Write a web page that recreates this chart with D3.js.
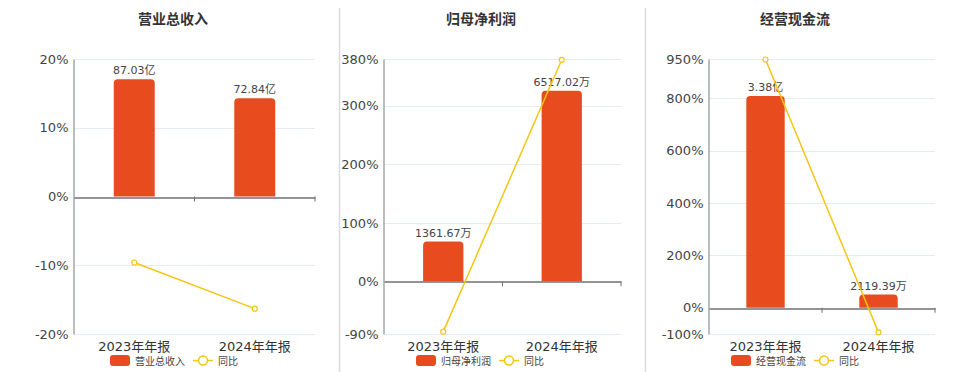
<!DOCTYPE html>
<html>
<head>
<meta charset="utf-8">
<script src="https://cdn.jsdelivr.net/npm/d3@7"></script>
<style>
  body { margin: 0; background: #fff; }
  svg text { font-family: "DejaVu Sans", "Noto Sans CJK SC", sans-serif; }
</style>
</head>
<body>
<svg id="chart" width="960" height="372"></svg>
<script>
// categories shared by all three panels
const categories = ["2023年年报", "2024年年报"];

// 营业总收入 (亿)
const revenueValues = [87.03, 72.84];
const revenueLabels = ["87.03亿", "72.84亿"];
const revenueYoY = [-9.6, -16.31];
const revenueTicks = [-20, -10, 0, 10, 20];

// 归母净利润 (万)
const profitValues = [1361.67, 6517.02];
const profitLabels = ["1361.67万", "6517.02万"];
const profitYoY = [-86, 378.6];
const profitTicks = [-90, 0, 100, 200, 300, 380];

// 经营现金流 (万)
const cashValues = [33800, 2119.39];
const cashLabels = ["3.38亿", "2119.39万"];
const cashYoY = [948, -93.7];
const cashTicks = [-100, 0, 200, 400, 600, 800, 950];

const panels = [
  { title: "营业总收入", bars: revenueValues, labels: revenueLabels, yoy: revenueYoY, ticks: revenueTicks,
    barMax: 102, x0: 74, x1: 315, titleX: 173, legendX: 110 },
  { title: "归母净利润", bars: profitValues, labels: profitLabels, yoy: profitYoY, ticks: profitTicks,
    barMax: 7600, x0: 384, x1: 621, titleX: 481, legendX: 416 },
  { title: "经营现金流", bars: cashValues, labels: cashLabels, yoy: cashYoY, ticks: cashTicks,
    barMax: 39700, x0: 709, x1: 935, titleX: 795, legendX: 731 }
];

const barColor = "#e84c1e";
const lineColor = "#f3c614";
const yTop = 59, yBot = 334;

const svg = d3.select("#chart");

// panel dividers
[339.5, 645.5].forEach(x => {
  svg.append("line")
    .attr("x1", x).attr("x2", x)
    .attr("y1", 8).attr("y2", 372)
    .style("stroke", "#dcdcdc")
    .style("stroke-width", 1.5);
});

panels.forEach(p => {
  const g = svg.append("g");
  const lo = d3.min(p.ticks), hi = d3.max(p.ticks);

  const x = d3.scaleBand().domain(categories).range([p.x0, p.x1]);
  const y = d3.scaleLinear().domain([lo, hi]).range([yBot, yTop]);
  // hidden bar axis, zero aligned with the percentage axis
  const yBar = d3.scaleLinear().domain([p.barMax * lo / hi, p.barMax]).range([yBot, yTop]);

  g.append("text")
    .attr("x", p.titleX).attr("y", 24)
    .attr("text-anchor", "middle")
    .style("font-size", "14px")
    .style("font-weight", "bold")
    .style("fill", "#333")
    .text(p.title);

  // grid lines
  g.selectAll(".grid")
    .data(p.ticks.filter(t => t !== 0))
    .enter().append("line")
    .attr("x1", p.x0).attr("x2", p.x1)
    .attr("y1", d => Math.round(y(d)) + 0.5)
    .attr("y2", d => Math.round(y(d)) + 0.5)
    .style("stroke", "#e6eaf4");

  // y axis
  const yAxis = g.append("g")
    .attr("transform", "translate(" + (p.x0 - 0.5) + ",0)")
    .call(d3.axisLeft(y).tickValues(p.ticks).tickSize(0).tickPadding(5).tickFormat(d => d + "%"));
  yAxis.select(".domain").style("stroke", "#8c9099").style("stroke-width", 1.2);
  yAxis.selectAll("text").style("font-size", "13px").style("fill", "#444");

  // bars with rounded tops
  const bw = x.bandwidth() * 0.34;
  g.selectAll(".bar")
    .data(p.bars)
    .enter().append("path")
    .attr("d", (d, i) => {
      const cx = x(categories[i]) + x.bandwidth() / 2;
      const l = cx - bw / 2, r = cx + bw / 2;
      const t = yBar(d), b = yBar(0), rr = 4;
      return "M" + l + "," + b + "V" + (t + rr) + "Q" + l + "," + t + " " + (l + rr) + "," + t +
        "H" + (r - rr) + "Q" + r + "," + t + " " + r + "," + (t + rr) + "V" + b + "Z";
    })
    .style("fill", barColor);

  g.selectAll(".blabel")
    .data(p.bars)
    .enter().append("text")
    .attr("x", (d, i) => x(categories[i]) + x.bandwidth() / 2)
    .attr("y", d => yBar(d) - 5)
    .attr("text-anchor", "middle")
    .style("font-size", "11px")
    .style("fill", "#444")
    .text((d, i) => p.labels[i]);

  // x axis at zero
  const xAxis = g.append("g")
    .attr("transform", "translate(0," + (Math.round(y(0)) + 0.5) + ")")
    .call(d3.axisBottom(x).tickSize(0).tickFormat(""));
  xAxis.select(".domain").style("stroke", "#6e7079").style("stroke-width", 1.5);
  const bounds = [p.x0 + x.bandwidth(), p.x1];
  g.selectAll(".xtick")
    .data(bounds)
    .enter().append("line")
    .attr("x1", d => d).attr("x2", d => d)
    .attr("y1", y(0)).attr("y2", y(0) + 5)
    .style("stroke", "#6e7079");

  g.selectAll(".xlabel")
    .data(categories)
    .enter().append("text")
    .attr("x", d => x(d) + x.bandwidth() / 2)
    .attr("y", 351)
    .attr("text-anchor", "middle")
    .style("font-size", "13px")
    .style("fill", "#333")
    .text(d => d);

  // yoy line
  const line = d3.line()
    .x((d, i) => x(categories[i]) + x.bandwidth() / 2)
    .y(d => y(d));
  g.append("path")
    .datum(p.yoy)
    .attr("d", line)
    .style("fill", "none")
    .style("stroke", lineColor)
    .style("stroke-width", 1.5);
  g.selectAll(".pt")
    .data(p.yoy)
    .enter().append("circle")
    .attr("cx", (d, i) => x(categories[i]) + x.bandwidth() / 2)
    .attr("cy", d => y(d))
    .attr("r", 2.5)
    .style("fill", "#fff")
    .style("stroke", lineColor)
    .style("stroke-width", 1.2);

  // legend
  const lg = g.append("g").attr("transform", "translate(" + p.legendX + ",355)");
  lg.append("rect")
    .attr("width", 20).attr("height", 11).attr("rx", 3)
    .style("fill", barColor);
  const nameText = lg.append("text")
    .attr("x", 25).attr("y", 9.5)
    .style("font-size", "10px")
    .style("fill", "#444")
    .text(p.title);
  const lx = 25 + nameText.node().getComputedTextLength() + 8;
  lg.append("line")
    .attr("x1", lx).attr("x2", lx + 20)
    .attr("y1", 5.5).attr("y2", 5.5)
    .style("stroke", lineColor).style("stroke-width", 1.5);
  lg.append("circle")
    .attr("cx", lx + 10).attr("cy", 5.5).attr("r", 4.5)
    .style("fill", "#fff")
    .style("stroke", lineColor).style("stroke-width", 1.5);
  lg.append("text")
    .attr("x", lx + 25).attr("y", 9.5)
    .style("font-size", "10px")
    .style("fill", "#444")
    .text("同比");
});
</script>
</body>
</html>
